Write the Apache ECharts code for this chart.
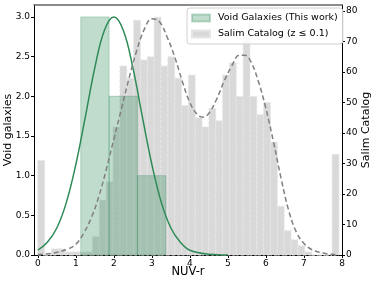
<!DOCTYPE html>
<html>
<head>
<meta charset="utf-8">
<script src="https://cdn.jsdelivr.net/npm/echarts@6/dist/echarts.min.js"></script>
<style>html,body{margin:0;padding:0;background:#fff;}#c{width:374px;height:284px;}</style>
</head>
<body>
<div id="c"></div>
<script>
const xTicks = [0, 1, 2, 3, 4, 5, 6, 7, 8];
const leftTicks = [0, 0.5, 1, 1.5, 2, 2.5, 3];
const rightTicks = [0, 10, 20, 30, 40, 50, 60, 70, 80];

const voidEdges = [1.13, 1.875, 2.62, 3.365];
const voidCounts = [3, 2, 1];

const salimEdges = [0, 0.18, 0.36, 0.54, 0.72, 0.9, 1.08, 1.26, 1.44, 1.62, 1.8,
  1.98, 2.16, 2.34, 2.52, 2.7, 2.88, 3.06, 3.24, 3.42, 3.6,
  3.78, 3.96, 4.14, 4.32, 4.5, 4.68, 4.86, 5.04, 5.22, 5.4,
  5.58, 5.76, 5.94, 6.12, 6.3, 6.48, 6.66, 6.84, 7.02, 7.2,
  7.38, 7.56, 7.74, 7.92];
const salimCounts = [31, 0, 2, 2, 1, 1, 1, 1, 6, 18, 24,
  42, 62, 58, 77, 64, 65, 78, 62, 65, 58,
  49, 59, 45, 42, 48, 44, 59, 63, 52, 73,
  52, 46, 50, 37, 16, 8, 5, 3, 1, 0,
  0, 0, 33];

const voidFitX = [0, 0.25, 0.5, 0.75, 1.0, 1.25, 1.5, 1.75, 2.0, 2.25, 2.5, 2.75, 3.0, 3.25, 3.5, 3.75, 4.0, 4.5, 5.0];
const voidFitY = [0.06, 0.16, 0.34, 0.66, 1.14, 1.74, 2.36, 2.83, 3.0, 2.83, 2.36, 1.74, 1.14, 0.66, 0.34, 0.16, 0.06, 0.01, 0.0];

const salimFitX = [0, 0.4, 0.8, 1.0, 1.2, 1.4, 1.6, 1.8, 2.0, 2.2, 2.4, 2.6, 2.8, 3.0, 3.2, 3.4, 3.6, 3.8, 4.0, 4.2, 4.35, 4.5, 4.7, 4.9, 5.1, 5.3, 5.45, 5.6, 5.8, 6.0, 6.2, 6.4, 6.6, 6.8, 7.0, 7.2, 7.4, 7.6, 7.8, 7.9];
const salimFitY = [0.2, 0.6, 2.0, 3.5, 7, 12, 19, 28, 38, 48, 58, 67, 74, 77.5, 76.5, 71.5, 65, 57, 50, 46, 45.2, 46.5, 51, 57, 62, 65.5, 65.5, 63.5, 57, 48, 37, 25, 14.5, 7.5, 3.8, 1.8, 0.9, 0.4, 0.2, 0.1];

const voidName = 'Void Galaxies (This work)';
const salimName = 'Salim Catalog (z \u2264 0.1)';

function bins(edges, counts) {
  return counts.map((c, i) => [edges[i], edges[i + 1], c]);
}
function pairs(xs, ys) { return xs.map((x, i) => [x, ys[i]]); }

function renderBin(params, api) {
  const x0 = api.value(0), x1 = api.value(1), h = api.value(2);
  const p0 = api.coord([x0, h]);
  const p1 = api.coord([x1, 0]);
  return {
    type: 'rect',
    shape: { x: p0[0], y: p0[1], width: p1[0] - p0[0], height: p1[1] - p0[1] },
    style: api.style()
  };
}

const font = 'DejaVu Sans';
const chart = echarts.init(document.getElementById('c'), null, { renderer: 'canvas' });
chart.setOption({
  animation: false,
  textStyle: { fontFamily: font },
  grid: { left: 34, right: 32, top: 5, bottom: 29, containLabel: false, outerBoundsMode: 'none' },
  legend: {
    left: 187, top: 8, orient: 'vertical',
    itemWidth: 18, itemHeight: 7, itemGap: 6,
    padding: [5, 5, 5, 4],
    backgroundColor: 'rgba(255,255,255,0.85)',
    borderColor: '#d0d0d0', borderWidth: 1, borderRadius: 3,
    textStyle: { fontSize: 9.5, color: '#000', fontFamily: font, padding: [0, 0, 0, 3] },
    data: [
      { name: voidName, icon: 'rect' },
      { name: salimName, icon: 'rect' }
    ]
  },
  xAxis: [{
    type: 'value', min: -0.1, max: 8.0,
    name: 'NUV-r', nameLocation: 'middle', nameGap: 11, nameMoveOverlap: false,
    nameTextStyle: { fontSize: 11.5, color: '#000', fontFamily: font, verticalAlign: 'top' },
    axisLine: { show: true, onZero: false, lineStyle: { color: '#000', width: 1 } },
    axisTick: { show: true, length: 3, customValues: xTicks, lineStyle: { color: '#000' } },
    axisLabel: { customValues: xTicks, fontSize: 9, color: '#000', margin: 4, fontFamily: font },
    splitLine: { show: false }
  }, {
    type: 'value', min: -0.1, max: 8.0, position: 'top',
    axisLine: { show: true, onZero: false, lineStyle: { color: '#666', width: 1.5 } },
    axisTick: { show: false }, axisLabel: { show: false }, splitLine: { show: false }
  }],
  yAxis: [{
    type: 'value', min: 0, max: 3.15, position: 'left',
    name: 'Void galaxies', nameLocation: 'middle', nameGap: 20, nameRotate: 90, nameMoveOverlap: false,
    nameTextStyle: { fontSize: 11, color: '#000', fontFamily: font },
    axisLine: { show: true, onZero: false, lineStyle: { color: '#000', width: 1 } },
    axisTick: { show: true, length: 3, customValues: leftTicks, lineStyle: { color: '#000' } },
    axisLabel: { customValues: leftTicks, fontSize: 9, color: '#000', margin: 4, fontFamily: font,
      formatter: v => v.toFixed(1) },
    splitLine: { show: false }
  }, {
    type: 'value', min: 0, max: 82, position: 'right',
    name: 'Salim Catalog', nameLocation: 'middle', nameGap: 19, nameRotate: 90, nameMoveOverlap: false,
    nameTextStyle: { fontSize: 11, color: '#000', fontFamily: font },
    axisLine: { show: true, onZero: false, lineStyle: { color: '#000', width: 1 } },
    axisTick: { show: true, length: 3, customValues: rightTicks, lineStyle: { color: '#000' } },
    axisLabel: { customValues: rightTicks, fontSize: 9, color: '#000', margin: 4, fontFamily: font },
    splitLine: { show: false }
  }],
  series: [{
    name: salimName, type: 'custom', xAxisIndex: 0, yAxisIndex: 1,
    renderItem: renderBin, encode: { x: [0, 1], y: 2 },
    itemStyle: { color: '#d9d9d9', borderColor: '#e6e6e6', borderWidth: 1, borderType: [3, 2] },
    data: bins(salimEdges, salimCounts)
  }, {
    name: voidName, type: 'custom', xAxisIndex: 0, yAxisIndex: 0,
    renderItem: renderBin, encode: { x: [0, 1], y: 2 },
    itemStyle: { color: 'rgba(46,139,87,0.3)', borderColor: 'rgba(46,139,87,0.3)', borderWidth: 1 },
    data: bins(voidEdges, voidCounts)
  }, {
    name: 'voidFit', type: 'line', xAxisIndex: 0, yAxisIndex: 0,
    data: pairs(voidFitX, voidFitY), smooth: 0.4, showSymbol: false,
    lineStyle: { color: '#2e8b57', width: 1.5 }
  }, {
    name: 'salimFit', type: 'line', xAxisIndex: 0, yAxisIndex: 1,
    data: pairs(salimFitX, salimFitY), smooth: 0.4, showSymbol: false,
    lineStyle: { color: '#808080', width: 1.5, type: [5, 3] }
  }]
});
</script>
</body>
</html>
